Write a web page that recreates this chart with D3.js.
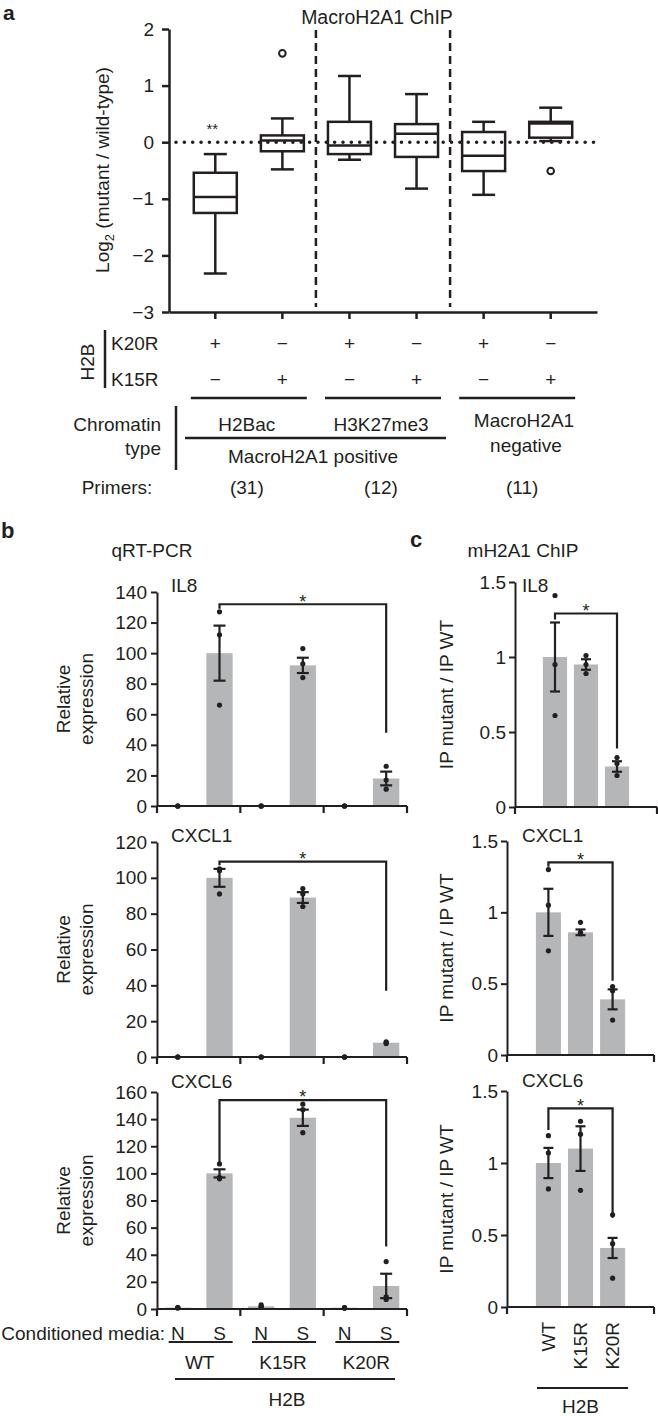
<!DOCTYPE html>
<html><head><meta charset="utf-8">
<script src="https://cdn.jsdelivr.net/npm/d3@7"></script>
<style>
body{margin:0;background:#fff}
text{font-family:"Liberation Sans",Arial,Helvetica,sans-serif;fill:#231f20}
</style>
</head><body><svg id="chart" width="658" height="1416"></svg>
<script>
// ---------------- DATA ----------------
// Panel a: box plots (log2 mutant / wild-type)
const boxGroups = ["K20R H2Bac","K15R H2Bac","K20R H3K27me3","K15R H3K27me3","K20R negative","K15R negative"];
const boxWhiskerLow  = [-2.32,-0.48,-0.31,-0.82,-0.93, 0.02];
const boxQ1          = [-1.25,-0.16,-0.21,-0.26,-0.51, 0.08];
const boxMedian      = [-0.97, 0.03,-0.06, 0.15,-0.24, 0.33];
const boxQ3          = [-0.54, 0.12, 0.36, 0.32, 0.18, 0.36];
const boxWhiskerHigh = [-0.21, 0.42, 1.17, 0.85, 0.36, 0.61];
const boxOutliers    = [[],[1.57],[],[],[],[-0.51]];
const boxSignif      = ["**","","","","",""];
const boxTicks = [-3,-2,-1,0,1,2];
const k20rSigns = ["+","−","+","−","+","−"];
const k15rSigns = ["−","+","−","+","−","+"];
const chromatinTypes = ["H2Bac","H3K27me3"];
const primerCounts = ["(31)","(12)","(11)"];

// Panel b: qRT-PCR relative expression
const qpcrGroups = ["WT","K15R","K20R"];
const qpcrMedia = ["N","S"];
const il8Expr      = [0,100,0,92,0,18];
const il8ExprSE    = [0,18,0,5,0,4.5];
const il8ExprDots  = [[0,0,0],[127,112,66],[0,0,0],[103,93,84],[0,0,0],[26,17,11]];
const il8ExprTicks = [0,20,40,60,80,100,120,140];
const il8ExprBracket = [132,129,48];
const cxcl1Expr      = [0,100,0,89,0,8];
const cxcl1ExprSE    = [0,5,0,3,0,0.6];
const cxcl1ExprDots  = [[0,0,0],[91,104,105],[0,0,0],[94,91,84],[0,0,0],[7.5,8,8.5]];
const cxcl1ExprTicks = [0,20,40,60,80,100,120];
const cxcl1ExprBracket = [109,107,37];
const cxcl6Expr      = [1,100,2,141,1,17];
const cxcl6ExprSE    = [0.2,3,0.5,6,0.2,9];
const cxcl6ExprDots  = [[1,1,0.8],[107,97,96],[3,2,1.5],[151,147,130],[1,1,0.5],[35,9,7]];
const cxcl6ExprTicks = [0,20,40,60,80,100,120,140,160];
const cxcl6ExprBracket = [154,107,46];

// Panel c: mH2A1 ChIP (IP mutant / IP WT)
const chipGroups = ["WT","K15R","K20R"];
const chipTicks = [0,0.5,1,1.5];
const il8Chip      = [1,0.95,0.27];
const il8ChipSE    = [0.23,0.035,0.035];
const il8ChipDots  = [[1.41,0.95,0.61],[1.01,0.95,0.89],[0.33,0.29,0.21]];
const il8ChipBracket = [1.29,1.25,0.39];
const cxcl1Chip     = [1,0.86,0.39];
const cxcl1ChipSE   = [0.165,0.02,0.07];
const cxcl1ChipDots = [[1.30,1.05,0.73],[0.93,0.86,0.85],[0.48,0.45,0.245]];
const cxcl1ChipBracket = [1.35,1.32,0.52];
const cxcl6Chip     = [1,1.1,0.41];
const cxcl6ChipSE   = [0.105,0.155,0.07];
const cxcl6ChipDots = [[1.19,1.07,0.82],[1.29,1.2,0.81],[0.64,0.44,0.2]];
const cxcl6ChipBracket = [1.38,1.23,0.62];

// ---------------- DRAWING ----------------
const INK = "#231f20", BAR = "#b5b6b8", FS = 19;
const svg = d3.select("#chart");
const minusFmt = d => d < 0 ? "−" + Math.abs(d) : String(d);

function txt(g, x, y, s, anchor = "middle", size = FS, weight = "normal") {
  return g.append("text").attr("x", x).attr("y", y).attr("dy", "0.35em")
    .attr("text-anchor", anchor).attr("font-size", size).attr("font-weight", weight).text(s);
}
function ln(g, x1, y1, x2, y2, w = 2) {
  return g.append("line").attr("x1", x1).attr("y1", y1).attr("x2", x2).attr("y2", y2)
    .attr("stroke", INK).attr("stroke-width", w);
}
function vtxt(g, x, y, s, anchor = "middle", size = FS) {
  return g.append("text").attr("transform", `translate(${x},${y}) rotate(-90)`)
    .attr("dy", "0.35em").attr("text-anchor", anchor).attr("font-size", size).text(s);
}
function styleAxis(a, w) {
  a.attr("font-size", FS).attr("color", INK);
  a.selectAll("path,line").attr("stroke-width", w);
  a.selectAll("text").attr("fill", INK);
}

// ===== Panel a =====
const gA = svg.append("g");
const xA = d3.scaleBand().domain(boxGroups).range([169, 597]).paddingInner(0).paddingOuter(0.19);
const yA = d3.scaleLinear().domain([-3, 2]).range([312, 29]);
const cA = d => xA(d) + xA.bandwidth() / 2;

gA.append("text").attr("x", 3).attr("y", 19.5).attr("font-size", 21).attr("font-weight", "bold").text("a");
txt(gA, 377, 17, "MacroH2A1 ChIP", "middle", 19.5);

const yLab = gA.append("text").attr("transform", `translate(102,170) rotate(-90)`)
  .attr("text-anchor", "middle").attr("dy", "0.35em").attr("font-size", FS);
yLab.append("tspan").text("Log");
yLab.append("tspan").attr("font-size", 13).attr("dy", 5).text("2");
yLab.append("tspan").attr("dy", -5).text(" (mutant / wild-type)");

const axA = gA.append("g").attr("transform", "translate(169,0)")
  .call(d3.axisLeft(yA).tickValues(boxTicks).tickSize(7).tickSizeOuter(0).tickPadding(8).tickFormat(minusFmt));
styleAxis(axA, 2.5);
const axAx = gA.append("g").attr("transform", `translate(0,${yA(-3)})`)
  .call(d3.axisBottom(xA).tickSize(7).tickSizeOuter(0).tickFormat(""));
styleAxis(axAx, 2.5);

// dashed separators
[2, 4].forEach(i => {
  ln(gA, xA(boxGroups[i]), 30, xA(boxGroups[i]), 307, 2.5).attr("stroke-dasharray", "8,5");
});

// boxes
const bw = 43, cap = 23;
boxGroups.forEach((g, i) => {
  const x = cA(g);
  ln(gA, x, yA(boxWhiskerHigh[i]), x, yA(boxQ3[i]), 2.5);
  ln(gA, x, yA(boxQ1[i]), x, yA(boxWhiskerLow[i]), 2.5);
  ln(gA, x - cap / 2, yA(boxWhiskerHigh[i]), x + cap / 2, yA(boxWhiskerHigh[i]), 2.5);
  ln(gA, x - cap / 2, yA(boxWhiskerLow[i]), x + cap / 2, yA(boxWhiskerLow[i]), 2.5);
  gA.append("rect").attr("x", x - bw / 2).attr("y", yA(boxQ3[i]))
    .attr("width", bw).attr("height", yA(boxQ1[i]) - yA(boxQ3[i]))
    .attr("fill", "none").attr("stroke", INK).attr("stroke-width", 2.5);
  ln(gA, x - bw / 2, yA(boxMedian[i]), x + bw / 2, yA(boxMedian[i]), 2.5);
  boxOutliers[i].forEach(v => {
    gA.append("circle").attr("cx", x).attr("cy", yA(v)).attr("r", 3.3)
      .attr("fill", "#fff").attr("stroke", INK).attr("stroke-width", 2);
  });
  if (boxSignif[i]) txt(gA, x - 3, yA(boxWhiskerHigh[i]) - 25, boxSignif[i], "middle", 15);
});
// dotted zero line
ln(gA, 176, yA(0), 597, yA(0), 3.6).attr("stroke-dasharray", "0,8.35").attr("stroke-linecap", "round");

// table under panel a
txt(gA, 111, 343, "K20R", "start");
txt(gA, 111, 379, "K15R", "start");
vtxt(gA, 87, 362, "H2B");
ln(gA, 105, 330, 105, 388, 2.5);
boxGroups.forEach((g, i) => {
  txt(gA, cA(g), 343, k20rSigns[i]);
  txt(gA, cA(g), 379, k15rSigns[i]);
});
for (let p = 0; p < 3; p++) {
  const mid = (cA(boxGroups[2 * p]) + cA(boxGroups[2 * p + 1])) / 2;
  ln(gA, mid - 58, 398, mid + 58, 398, 2.5);
}
txt(gA, 161, 424, "Chromatin", "end");
txt(gA, 161, 448, "type", "end");
ln(gA, 176, 406, 176, 470, 2.5);
chromatinTypes.forEach((c, p) => {
  const mid = (cA(boxGroups[2 * p]) + cA(boxGroups[2 * p + 1])) / 2;
  txt(gA, mid - 2, 424, c);
});
ln(gA, 185, 438, 446, 438, 2.5);
txt(gA, 313, 456, "MacroH2A1 positive");
txt(gA, 524, 420, "MacroH2A1");
txt(gA, 526, 445, "negative");
txt(gA, 117, 487, "Primers:");
primerCounts.forEach((c, p) => {
  const mid = (cA(boxGroups[2 * p]) + cA(boxGroups[2 * p + 1])) / 2;
  txt(gA, mid - 2 + (p === 2 ? 7 : 0), 487, c);
});

// ===== Panel b =====
const gB = svg.append("g");
gB.append("text").attr("x", 1).attr("y", 538).attr("font-size", 22).attr("font-weight", "bold").text("b");
txt(gB, 152, 550, "qRT-PCR");

const xBG = d3.scaleBand().domain(qpcrGroups).range([157, 407]);
const xBM = d3.scaleBand().domain(qpcrMedia).range([0, xBG.bandwidth()]).paddingInner(0.37).paddingOuter(0.185);
const barX = i => xBG(qpcrGroups[Math.floor(i / 2)]) + xBM(qpcrMedia[i % 2]);
const barC = i => barX(i) + xBM.bandwidth() / 2;

function drawBars(g, y, xs, w, mean, se, dots, capW) {
  mean.forEach((v, i) => {
    g.append("rect").attr("x", xs(i)).attr("y", y(v)).attr("width", w)
      .attr("height", y(0) - y(v)).attr("fill", BAR);
  });
  mean.forEach((v, i) => {
    const cx = xs(i) + w / 2;
    if (se[i] > 0.5 * (y.domain()[1] / 100)) {
      ln(g, cx, y(v + se[i]), cx, y(v - se[i]), 2.2);
      ln(g, cx - capW / 2, y(v + se[i]), cx + capW / 2, y(v + se[i]), 2.2);
      ln(g, cx - capW / 2, y(v - se[i]), cx + capW / 2, y(v - se[i]), 2.2);
    }
    dots[i].forEach(d => g.append("circle").attr("cx", cx).attr("cy", y(d)).attr("r", 2.6).attr("fill", INK));
  });
}
function drawBracket(g, y, xl, xr, br) {
  const [top, left, right] = br;
  g.append("path").attr("d", `M${xl},${y(left)}V${y(top)}H${xr}V${y(right)}`)
    .attr("fill", "none").attr("stroke", INK).attr("stroke-width", 2.2);
  txt(g, (xl + xr) / 2, y(top) - 3, "*", "middle", 18);
}

function qpcrChart(top, bottom, ticks, mean, se, dots, br, name, labelY) {
  const y = d3.scaleLinear().domain([0, ticks[ticks.length - 1]]).range([bottom, top]);
  const ay = gB.append("g").attr("transform", "translate(157,0)")
    .call(d3.axisLeft(y).tickValues(ticks).tickSize(6).tickSizeOuter(0).tickPadding(4));
  styleAxis(ay, 2);
  drawBars(gB, y, barX, xBM.bandwidth(), mean, se, dots, 12);
  ln(gB, 157, y(0), 407, y(0), 2.2);
  qpcrGroups.forEach(gr => ln(gB, xBG(gr), y(0), xBG(gr), y(0) + 7, 2.2));
  ln(gB, 407, y(0), 407, y(0) + 7, 2.2);
  drawBracket(gB, y, barC(1), barC(5), br);
  txt(gB, 171, labelY, name, "start");
  vtxt(gB, 63, (top + bottom) / 2, "Relative");
  vtxt(gB, 86, (top + bottom) / 2, "expression");
}
qpcrChart(592, 806, il8ExprTicks, il8Expr, il8ExprSE, il8ExprDots, il8ExprBracket, "IL8", 585);
qpcrChart(842, 1057, cxcl1ExprTicks, cxcl1Expr, cxcl1ExprSE, cxcl1ExprDots, cxcl1ExprBracket, "CXCL1", 835);
qpcrChart(1092, 1309, cxcl6ExprTicks, cxcl6Expr, cxcl6ExprSE, cxcl6ExprDots, cxcl6ExprBracket, "CXCL6", 1081);

txt(gB, 165, 1333, "Conditioned media:", "end");
qpcrGroups.forEach((gr, k) => {
  qpcrMedia.forEach((m, j) => txt(gB, barC(2 * k + j), 1333, m));
  const mid = xBG(gr) + xBG.bandwidth() / 2 + 2;
  ln(gB, mid - 32, 1342, mid + 32, 1342, 2.2);
  txt(gB, mid - 1, 1362, gr);
});
ln(gB, 175, 1379, 395, 1379, 2.2);
txt(gB, 287, 1399, "H2B");

// ===== Panel c =====
const gC = svg.append("g");
gC.append("text").attr("x", 410).attr("y", 547).attr("font-size", 22).attr("font-weight", "bold").text("c");
txt(gC, 523, 550, "mH2A1 ChIP");

function chipChart(x0, x1, top, bottom, mean, se, dots, br, name, labelY, showX) {
  const x = d3.scaleBand().domain(chipGroups).range([x0, x1]).paddingInner(0.22).paddingOuter(0.9);
  const y = d3.scaleLinear().domain([0, 1.5]).range([bottom, top]);
  const ay = gC.append("g").attr("transform", `translate(${x0},0)`)
    .call(d3.axisLeft(y).tickValues(chipTicks).tickSize(6).tickSizeOuter(0).tickPadding(3).tickFormat(d => String(d)));
  styleAxis(ay, 2);
  const xs = i => x(chipGroups[i]);
  drawBars(gC, y, xs, x.bandwidth(), mean, se, dots, 10);
  ln(gC, x0, y(0), x1, y(0), 2.2);
  ln(gC, x0, y(0), x0, y(0) + 7, 2.2);
  ln(gC, x1, y(0), x1, y(0) + 7, 2.2);
  const c = i => xs(i) + x.bandwidth() / 2;
  drawBracket(gC, y, c(0), c(2), br);
  txt(gC, 522, labelY, name, "start");
  vtxt(gC, 446, (top + bottom) / 2, "IP mutant / IP WT");
  if (showX) {
    chipGroups.forEach((gr, i) => vtxt(gC, c(i), 1322, gr, "end"));
    ln(gC, 537, 1388, 628, 1388, 2.2);
    txt(gC, c(1), 1406, "H2B");
  }
}
chipChart(515, 657, 582, 807, il8Chip, il8ChipSE, il8ChipDots, il8ChipBracket, "IL8", 585, false);
chipChart(507, 654, 841, 1055, cxcl1Chip, cxcl1ChipSE, cxcl1ChipDots, cxcl1ChipBracket, "CXCL1", 835, false);
chipChart(507, 654, 1091, 1307, cxcl6Chip, cxcl6ChipSE, cxcl6ChipDots, cxcl6ChipBracket, "CXCL6", 1080, true);
</script>
</body></html>
